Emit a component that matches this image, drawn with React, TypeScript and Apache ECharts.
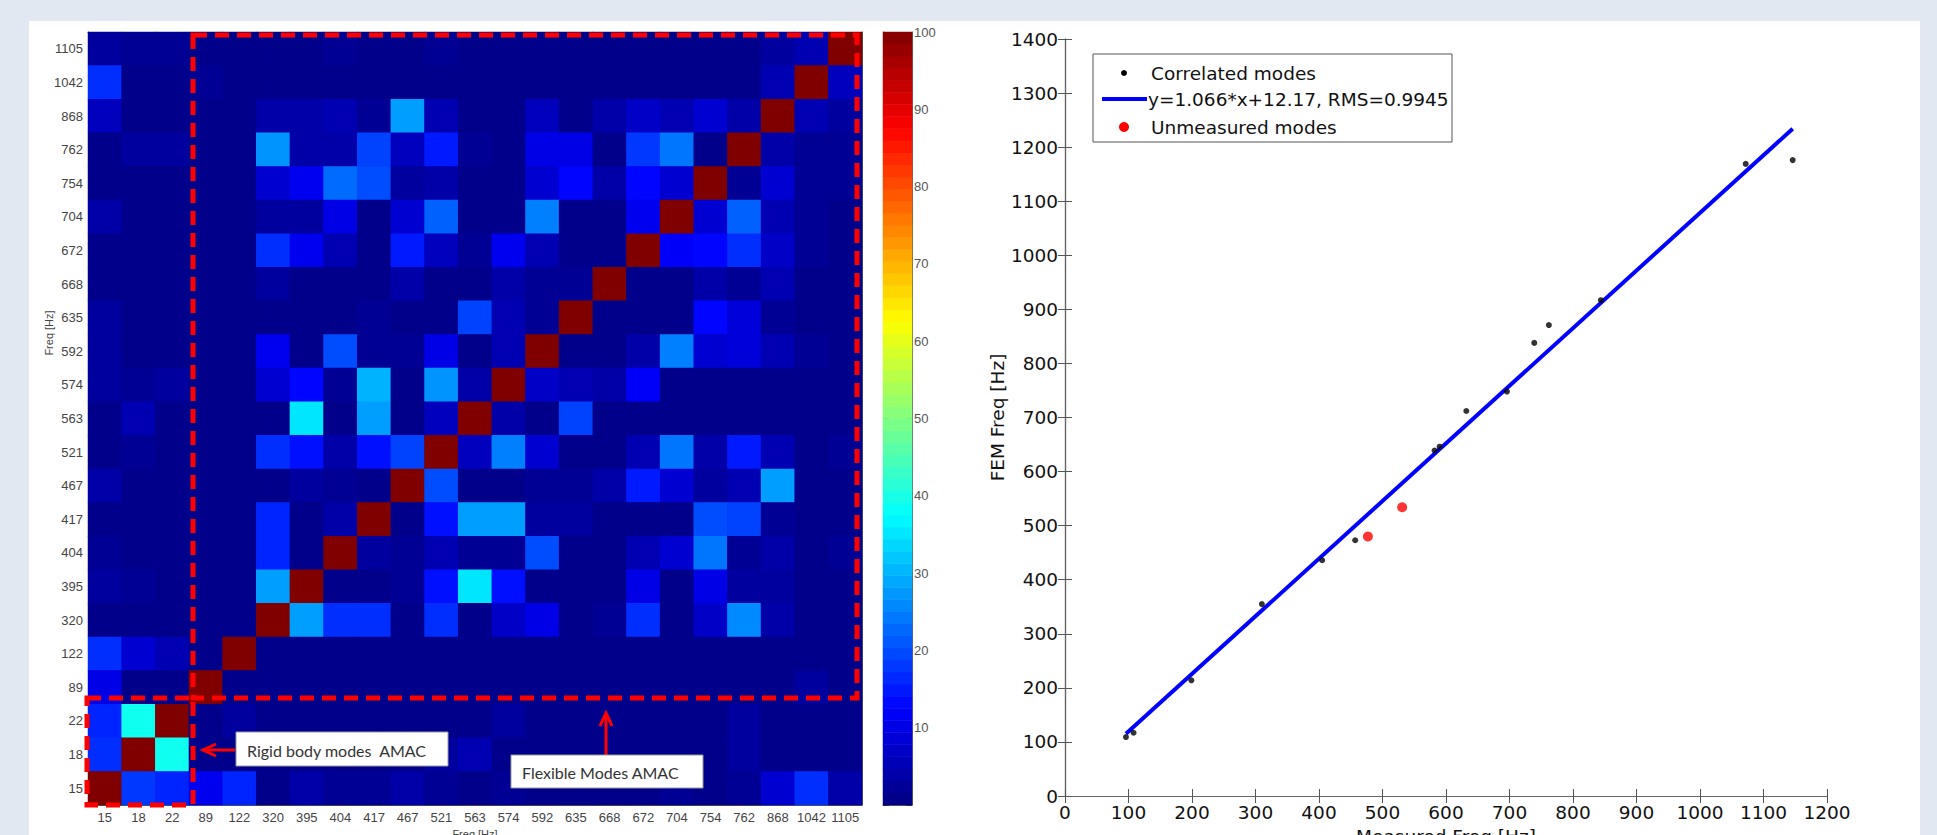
import React, { useEffect, useRef } from "react";
import * as echarts from "echarts";

// ---------- Data ----------
const modeFreqs = ["15", "18", "22", "89", "122", "320", "395", "404", "417", "467", "521", "563", "574", "592", "635", "668", "672", "704", "754", "762", "868", "1042", "1105"];

// AMAC values (%), rows listed from top (1105 Hz) to bottom (15 Hz); columns 15 ... 1105 Hz
const amacRowsTopDown: number[][] = [
  [3, 2, 2, 1, 1, 1, 1, 2, 1, 1, 2, 1, 1, 1, 1, 1, 1, 1, 1, 1, 3, 5, 100], // 1105
  [17, 1, 1, 2, 1, 1, 1, 1, 1, 1, 1, 1, 1, 1, 1, 1, 1, 1, 1, 1, 5, 100, 6], // 1042
  [6, 1, 1, 1, 1, 4, 4, 5, 2, 28, 5, 1, 1, 6, 1, 4, 7, 5, 8, 4, 100, 5, 3], // 868
  [1, 3, 3, 1, 1, 27, 4, 4, 19, 6, 15, 2, 1, 10, 10, 1, 18, 24, 1, 100, 4, 2, 2], // 762
  [1, 1, 1, 1, 1, 8, 11, 23, 20, 3, 4, 1, 1, 8, 13, 4, 13, 8, 100, 2, 8, 2, 2], // 754
  [4, 1, 1, 1, 1, 3, 3, 10, 1, 8, 22, 1, 1, 25, 1, 1, 11, 100, 8, 22, 5, 2, 1], // 704
  [1, 1, 1, 1, 1, 17, 11, 5, 1, 15, 6, 2, 11, 5, 1, 1, 100, 12, 13, 17, 7, 2, 1], // 672
  [1, 1, 1, 1, 1, 3, 1, 1, 1, 4, 1, 1, 4, 2, 2, 100, 1, 1, 4, 2, 5, 1, 1], // 668
  [3, 1, 1, 1, 1, 1, 1, 1, 2, 1, 1, 19, 5, 2, 100, 1, 1, 1, 13, 9, 2, 1, 1], // 635
  [3, 1, 1, 1, 1, 11, 1, 20, 2, 2, 10, 1, 5, 100, 1, 1, 4, 25, 8, 9, 5, 2, 1], // 592
  [3, 2, 3, 1, 1, 8, 13, 2, 30, 1, 27, 4, 100, 7, 5, 4, 12, 1, 1, 1, 1, 1, 1], // 574
  [1, 5, 1, 1, 1, 1, 35, 1, 28, 1, 6, 100, 4, 1, 19, 1, 1, 1, 1, 1, 1, 1, 1], // 563
  [1, 2, 1, 1, 1, 17, 14, 4, 14, 19, 100, 6, 25, 8, 1, 1, 5, 24, 4, 15, 5, 1, 2], // 521
  [4, 1, 1, 1, 1, 1, 3, 2, 1, 100, 20, 1, 1, 2, 2, 4, 15, 8, 3, 5, 28, 1, 1], // 467
  [1, 1, 1, 1, 1, 16, 1, 4, 100, 1, 14, 28, 28, 3, 3, 1, 1, 1, 20, 19, 2, 1, 1], // 417
  [2, 1, 1, 1, 1, 16, 1, 100, 3, 2, 5, 2, 2, 20, 1, 1, 5, 8, 24, 2, 4, 1, 2], // 404
  [3, 2, 1, 1, 1, 28, 100, 1, 1, 2, 14, 35, 14, 1, 1, 1, 10, 1, 10, 3, 3, 1, 1], // 395
  [1, 1, 1, 1, 1, 100, 28, 17, 17, 1, 17, 1, 7, 10, 1, 2, 17, 1, 7, 26, 4, 1, 1], // 320
  [17, 8, 5, 1, 100, 1, 1, 1, 1, 1, 1, 1, 1, 1, 1, 1, 1, 1, 1, 1, 1, 1, 1], // 122
  [10, 1, 1, 100, 1, 1, 1, 1, 1, 1, 1, 1, 1, 1, 1, 1, 1, 1, 1, 1, 1, 3, 1], // 89
  [16, 39, 100, 1, 3, 1, 1, 1, 1, 1, 1, 1, 3, 1, 1, 1, 1, 1, 1, 3, 1, 1, 1], // 22
  [17, 100, 39, 1, 1, 1, 1, 1, 1, 1, 3, 5, 1, 1, 1, 1, 1, 1, 1, 3, 1, 1, 1], // 18
  [100, 18, 16, 11, 16, 1, 4, 2, 2, 4, 2, 1, 2, 1, 1, 1, 1, 2, 1, 2, 8, 17, 4], // 15
];

const jetColors = ["#000080", "#0000ff", "#0080ff", "#00ffff", "#80ff80", "#ffff00", "#ff8000", "#ff0000", "#800000"];
const colorbarLevels = 64;

// Measured vs FEM frequency [Hz]
const correlatedModes: [number, number][] = [
  [96, 109], [108, 117], [199, 214], [310, 355], [405, 436], [457, 473],
  [582, 639], [590, 646], [632, 712], [696, 748], [739, 838], [762, 871],
  [844, 917], [1072, 1169], [1146, 1176],
];
const unmeasuredModes: [number, number][] = [[477, 480], [531, 534]];
const fitLine: [number, number][] = [[96, 115], [1146, 1234]];
const fitLabel = "y=1.066*x+12.17, RMS=0.9945";

// ---------- Component ----------
export default function App() {
  const ref = useRef<HTMLDivElement>(null);

  useEffect(() => {
    const chart = echarts.init(ref.current!, null, { renderer: "svg" });
    const n = modeFreqs.length;
    const heatData: number[][] = [];
    amacRowsTopDown.forEach((row, r) => {
      row.forEach((v, c) => heatData.push([c, n - 1 - r, v]));
    });
    const cbCats: string[] = [];
    const cbData: number[][] = [];
    for (let i = 0; i < colorbarLevels; i++) {
      cbCats.push(String(i));
      cbData.push([0, i, ((i + 0.5) * 100) / colorbarLevels]);
    }

    const hmFont = "'Liberation Sans', Arial, sans-serif";
    const scFont = "'DejaVu Sans', sans-serif";
    const scSize = 18.5;
    const hmLine = { show: true, lineStyle: { color: "#555", width: 1 } };
    const hmTick = { show: true, inside: true, length: 5, alignWithLabel: true, lineStyle: { color: "#222" } };
    const scLine = { show: true, lineStyle: { color: "#666", width: 1.2 } };
    const scTick = { show: true, inside: true, length: 7, lineStyle: { color: "#555" } };
    const plain = (v: number) => String(v);

    const red = "#ff0000";
    const dashStyle = { fill: "none", stroke: red, lineWidth: 5, lineDash: [14, 8] };

    const option: any = {
      animation: false,
      backgroundColor: "#e1e8f1",
      grid: [
        { left: 88, top: 32, width: 774, height: 773, show: true, backgroundColor: "#000084", borderWidth: 0, outerBoundsMode: "none", containLabel: false },
        { left: 883, top: 32, width: 29, height: 773, outerBoundsMode: "none", containLabel: false },
        { left: 1065, top: 39, width: 762, height: 757, outerBoundsMode: "none", containLabel: false },
      ],
      visualMap: {
        type: "continuous",
        show: false,
        min: 0,
        max: 100,
        dimension: 2,
        seriesIndex: [0, 1],
        inRange: { color: jetColors },
      },
      xAxis: [
        {
          gridIndex: 0, type: "category", data: modeFreqs, position: "bottom",
          axisLine: hmLine, axisTick: hmTick, splitLine: { show: false },
          axisLabel: { interval: 0, fontSize: 13, color: "#444", fontFamily: hmFont, margin: 6 },
          name: "Freq [Hz]", nameLocation: "middle", nameGap: 22,
          nameTextStyle: { fontSize: 11, color: "#444", fontFamily: hmFont },
        },
        {
          gridIndex: 0, type: "category", data: modeFreqs, position: "top",
          axisLine: hmLine, axisTick: hmTick, axisLabel: { show: false }, splitLine: { show: false },
        },
        {
          gridIndex: 1, type: "category", data: ["c"], position: "bottom",
          axisLine: { show: true, lineStyle: { color: "#666" } }, axisTick: { show: false }, axisLabel: { show: false },
        },
        {
          gridIndex: 2, type: "value", min: 0, max: 1200, interval: 100, position: "bottom",
          axisLine: scLine, axisTick: scTick, splitLine: { show: false },
          axisLabel: { fontSize: scSize, color: "#111", fontFamily: scFont, margin: 7, formatter: plain },
          name: "Measured Freq [Hz]", nameLocation: "middle", nameGap: 29,
          nameTextStyle: { fontSize: scSize, color: "#111", fontFamily: scFont },
        },
        {
          gridIndex: 2, type: "value", min: 0, max: 1200, interval: 100, position: "top",
          axisLine: scLine, axisTick: scTick, axisLabel: { show: false }, splitLine: { show: false },
        },
      ],
      yAxis: [
        {
          gridIndex: 0, type: "category", data: modeFreqs, position: "left",
          axisLine: hmLine, axisTick: hmTick, splitLine: { show: false },
          axisLabel: { interval: 0, fontSize: 13, color: "#444", fontFamily: hmFont, margin: 5 },
        },
        {
          gridIndex: 0, type: "category", data: modeFreqs, position: "right",
          axisLine: hmLine, axisTick: hmTick, axisLabel: { show: false }, splitLine: { show: false },
        },
        {
          gridIndex: 1, type: "category", data: cbCats, show: false,
        },
        {
          gridIndex: 1, type: "value", min: 0, max: 100, interval: 10, position: "right",
          axisLine: { show: true, lineStyle: { color: "#666" } },
          axisTick: { show: true, inside: true, length: 6, lineStyle: { color: "#333" } },
          splitLine: { show: false },
          axisLabel: {
            fontSize: 13, color: "#555", fontFamily: hmFont, margin: 2,
            formatter: (v: number) => (v === 0 ? "" : String(v)),
          },
        },
        {
          gridIndex: 1, type: "value", min: 0, max: 100, interval: 10, position: "left",
          axisLine: { show: true, lineStyle: { color: "#666" } },
          axisTick: { show: true, inside: true, length: 6, lineStyle: { color: "#333" } },
          axisLabel: { show: false }, splitLine: { show: false },
        },
        {
          gridIndex: 2, type: "value", min: 0, max: 1400, interval: 100, position: "left",
          axisLine: scLine, axisTick: scTick, splitLine: { show: false },
          axisLabel: { fontSize: scSize, color: "#111", fontFamily: scFont, margin: 7, formatter: plain },
          name: "FEM Freq [Hz]", nameLocation: "middle", nameGap: 58,
          nameTextStyle: { fontSize: scSize, color: "#111", fontFamily: scFont },
        },
        {
          gridIndex: 2, type: "value", min: 0, max: 1400, interval: 100, position: "right",
          axisLine: scLine, axisTick: scTick, axisLabel: { show: false }, splitLine: { show: false },
        },
      ],
      series: [
        {
          name: "AMAC", type: "heatmap", xAxisIndex: 0, yAxisIndex: 0, data: heatData,
          itemStyle: { borderWidth: 0 }, emphasis: { disabled: true },
        },
        {
          name: "colorbar", type: "heatmap", xAxisIndex: 2, yAxisIndex: 2, data: cbData,
          itemStyle: { borderWidth: 0 }, emphasis: { disabled: true },
        },
        {
          name: fitLabel, type: "line", xAxisIndex: 3, yAxisIndex: 5, data: fitLine,
          symbol: "none", lineStyle: { color: "#0000ff", width: 4 }, z: 2,
        },
        {
          name: "Correlated modes", type: "scatter", xAxisIndex: 3, yAxisIndex: 5, data: correlatedModes,
          symbol: "circle", symbolSize: 6, itemStyle: { color: "#000" }, z: 3,
        },
        {
          name: "Unmeasured modes", type: "scatter", xAxisIndex: 3, yAxisIndex: 5, data: unmeasuredModes,
          symbol: "circle", symbolSize: 10, itemStyle: { color: red }, z: 3,
        },
      ],
      graphic: [
        { type: "rect", z: -10, silent: true, shape: { x: 29, y: 21, width: 1891, height: 830 }, style: { fill: "#ffffff" } },
        // left y-axis name of heatmap
        {
          type: "text", x: 49, y: 333, rotation: Math.PI / 2, z: 10,
          style: { text: "Freq [Hz]", fontSize: 11, fill: "#444", fontFamily: hmFont, align: "center", verticalAlign: "middle" },
        },
        // dashed boxes
        { type: "rect", z: 50, shape: { x: 193, y: 35, width: 664, height: 663 }, style: dashStyle },
        { type: "rect", z: 50, shape: { x: 87, y: 698, width: 106, height: 107 }, style: dashStyle },
        // rigid body annotation
        { type: "line", z: 60, shape: { x1: 235, y1: 750, x2: 203, y2: 750 }, style: { stroke: red, lineWidth: 3 } },
        { type: "polyline", z: 60, shape: { points: [[216, 744], [203, 750], [216, 756]] }, style: { stroke: red, lineWidth: 3, fill: "none" } },
        { type: "rect", z: 60, shape: { x: 236, y: 732, width: 212, height: 34 }, style: { fill: "#fff", stroke: "#999", lineWidth: 1 } },
        {
          type: "text", z: 61, x: 247, y: 750,
          style: { text: "Rigid body modes  AMAC", fontSize: 16, fill: "#333", fontFamily: "Lato, 'Open Sans', sans-serif", align: "left", verticalAlign: "middle" },
        },
        // flexible annotation
        { type: "line", z: 60, shape: { x1: 606, y1: 755, x2: 606, y2: 713 }, style: { stroke: red, lineWidth: 3 } },
        { type: "polyline", z: 60, shape: { points: [[600, 726], [606, 713], [612, 726]] }, style: { stroke: red, lineWidth: 3, fill: "none" } },
        { type: "rect", z: 60, shape: { x: 511, y: 755, width: 192, height: 33 }, style: { fill: "#fff", stroke: "#999", lineWidth: 1 } },
        {
          type: "text", z: 61, x: 522, y: 772,
          style: { text: "Flexible Modes AMAC", fontSize: 16, fill: "#333", fontFamily: "Lato, 'Open Sans', sans-serif", align: "left", verticalAlign: "middle" },
        },
        // scatter legend
        { type: "rect", z: 60, shape: { x: 1093, y: 54, width: 359, height: 88 }, style: { fill: "#fff", stroke: "#555", lineWidth: 1 } },
        { type: "circle", z: 61, shape: { cx: 1124, cy: 73, r: 3 }, style: { fill: "#000" } },
        {
          type: "text", z: 61, x: 1151, y: 73,
          style: { text: "Correlated modes", fontSize: scSize, fill: "#111", fontFamily: scFont, align: "left", verticalAlign: "middle" },
        },
        { type: "line", z: 61, shape: { x1: 1102, y1: 99, x2: 1147, y2: 99 }, style: { stroke: "#0000ff", lineWidth: 4 } },
        {
          type: "text", z: 61, x: 1148, y: 99,
          style: { text: fitLabel, fontSize: scSize, fill: "#111", fontFamily: scFont, align: "left", verticalAlign: "middle" },
        },
        { type: "circle", z: 61, shape: { cx: 1124, cy: 127, r: 5 }, style: { fill: red } },
        {
          type: "text", z: 61, x: 1151, y: 127,
          style: { text: "Unmeasured modes", fontSize: scSize, fill: "#111", fontFamily: scFont, align: "left", verticalAlign: "middle" },
        },
      ],
    };

    chart.setOption(option);
    return () => chart.dispose();
  }, []);

  return <div ref={ref} style={{ position: "fixed", left: 0, top: 0, width: 1937, height: 835 }} />;
}
